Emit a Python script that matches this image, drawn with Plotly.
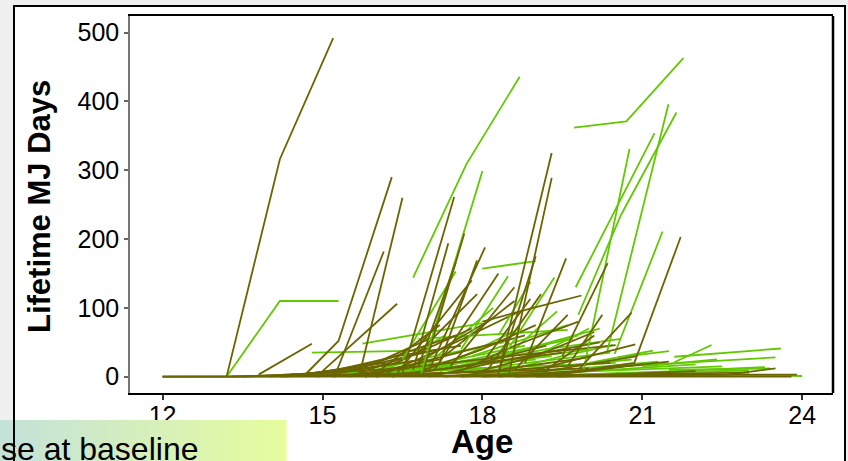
import plotly.graph_objects as go

# ---------------- data (age, lifetime MJ days) per subject ----------------
olive_low_ages = [
    [12, 13.2, 16.0, 19.0, 23.8], [12, 13.2, 15.0, 18.0, 23.9], [13.2, 15.0, 17.0, 20.0],
    [13.3, 14.7, 16.2], [13.5, 15.2, 16.9], [14.0, 15.5, 17.2], [14.3, 15.8, 17.5],
    [14.6, 16.0, 17.0], [14.9, 16.3, 17.8], [15.2, 16.6, 18.2], [15.5, 17.2, 18.6],
    [15.8, 17.3, 18.8], [16.0, 17.7, 19.2], [16.3, 18.0, 19.5], [16.6, 18.3, 20.0],
    [17.0, 18.5, 20.2], [17.3, 18.9, 20.4], [17.6, 19.2, 20.9], [18.0, 19.6, 21.0],
    [18.3, 20.0, 21.5], [18.6, 20.3, 22.0], [19.0, 20.7, 22.6, 23.5], [19.4, 21.0, 23.0],
    [14.4, 16.5, 18.5, 20.5], [15.0, 16.4, 17.6], [16.9, 18.0, 19.0], [17.5, 18.6, 19.8],
    [16.2, 17.5, 18.7], [15.6, 16.8, 17.9], [17.8, 19.0, 20.1],
]
olive_low_vals = [
    [0, 0, 0, 0, 0], [0, 0, 1, 2, 3], [0, 2, 5, 12],
    [0, 4, 20], [0, 6, 25], [0, 10, 40], [0, 15, 60],
    [2, 20, 55], [0, 18, 70], [0, 12, 85], [0, 25, 110],
    [0, 30, 60], [0, 15, 45], [0, 20, 35], [2, 10, 28],
    [0, 25, 50], [0, 12, 20], [0, 8, 30], [0, 5, 18],
    [0, 10, 22], [0, 3, 8], [0, 1, 3, 12], [0, 4, 6],
    [3, 12, 30, 46], [5, 30, 45], [10, 40, 75], [5, 45, 80],
    [5, 50, 95], [3, 35, 120], [5, 30, 65],
]

green_low_ages = [
    [14.2, 16.0, 18.0], [14.5, 16.5, 18.5, 20.5], [15.0, 17.0, 19.0], [15.4, 17.2, 18.8],
    [15.8, 17.5, 19.3], [16.2, 17.8, 19.7], [16.6, 18.2, 20.0], [17.0, 18.6, 20.4],
    [17.4, 19.0, 20.8], [17.8, 19.5, 21.3], [18.2, 20.0, 22.0], [18.7, 20.6, 22.5],
    [19.2, 21.0, 23.0], [19.8, 21.6, 23.3], [16.8, 18.4, 19.8], [17.2, 18.8, 20.2],
    [16.0, 17.4, 18.7], [15.6, 17.1, 18.4], [17.6, 19.2, 20.6], [18.5, 19.5, 20.45],
    [21.6, 23.6], [20.6, 23.5], [21.6, 22.3], [20.55, 21.5], [20.0, 21.2],
    [20.5, 24.0], [21.5, 23.4], [21.0, 22.4], [14.8, 16.9], [15.75, 18.0],
    [16.8, 19.6], [16.8, 18.0], [17.0, 18.2], [18.6, 19.4], [19.0, 20.0],
    [17.8, 19.6], [16.2, 17.3],
]
green_low_vals = [
    [0, 5, 12], [2, 8, 15, 20], [3, 12, 25], [5, 20, 45],
    [0, 15, 30], [3, 25, 55], [5, 20, 40], [2, 18, 35],
    [5, 12, 25], [3, 10, 22], [2, 8, 18], [4, 10, 15],
    [2, 6, 9], [3, 8, 14], [10, 30, 60], [8, 40, 70],
    [5, 20, 70], [3, 30, 50], [15, 40, 55], [10, 30, 46],
    [29, 41], [15, 28], [21, 46], [28, 37], [20, 38],
    [5, 1], [10, 12], [15, 25], [35, 38], [48, 78],
    [55, 68], [5, 40], [20, 100], [40, 95], [30, 70],
    [30, 75], [10, 60],
]

green_high_ages = [
    [13.2, 14.2, 15.3], [16.7, 17.7, 18.7], [16.85, 18.0], [16.5, 17.5],
    [18.0, 19.0], [19.72, 20.7, 21.77], [19.9, 20.76], [19.75, 21.23],
    [19.8, 20.6, 21.64], [20.33, 21.49], [20.48, 21.38], [17.6, 18.48],
    [18.3, 18.9], [18.4, 19.35],
]
green_high_vals = [
    [0, 110, 110], [144, 309, 436], [5, 299], [25, 153],
    [157, 168], [362, 371, 463], [10, 331], [130, 354],
    [90, 235, 384], [33, 396], [33, 211], [40, 146],
    [60, 138], [30, 144],
]

olive_high_ages = [
    [12, 13.2, 14.2, 15.2], [13.8, 14.8], [14.7, 15.3, 16.3], [15.7, 16.5],
    [15.25, 16.15], [15.0, 16.4], [16.5, 17.47], [16.7, 17.36],
    [16.9, 17.66], [16.8, 17.5], [17.0, 18.05], [17.2, 17.9],
    [18.3, 19.3], [18.5, 19.3], [19.5, 20.85, 21.72], [19.5, 20.35],
    [18.8, 19.57], [19.6, 20.25], [19.8, 20.8], [19.0, 20.87],
    [18.0, 18.95, 19.86], [18.3, 19.0], [18.0, 18.9],
    [16.4, 17.8], [17.1, 18.3], [17.4, 18.6], [18.1, 19.1],
    [18.6, 19.6], [16.0, 17.2], [19.2, 20.1],
]
olive_high_vals = [
    [0, 0, 316, 492], [3, 48], [5, 52, 290], [5, 260],
    [5, 182], [8, 106], [5, 261], [10, 194],
    [10, 208], [15, 166], [10, 188], [20, 169],
    [5, 325], [5, 289], [5, 20, 203], [30, 165],
    [20, 172], [15, 90], [10, 93], [10, 47],
    [80, 100, 118], [5, 175], [20, 113],
    [5, 140], [10, 150], [15, 130], [10, 120],
    [10, 90], [5, 75], [10, 60],
]

x_ticks = [12, 15, 18, 21, 24]
y_ticks = [0, 100, 200, 300, 400, 500]

OLIVE = "#6B6500"
GREEN = "#62C800"

fig = go.Figure()


def add_group(ages_list, vals_list, color):
    for a, v in zip(ages_list, vals_list):
        fig.add_trace(go.Scatter(x=a, y=v, mode="lines",
                                 line=dict(color=color, width=1.8),
                                 hoverinfo="skip", showlegend=False))


add_group(green_low_ages, green_low_vals, GREEN)
add_group(olive_low_ages, olive_low_vals, OLIVE)
add_group(green_high_ages, green_high_vals, GREEN)
add_group(olive_high_ages, olive_high_vals, OLIVE)

# ---------------- layout ----------------
L, R, T, B = 130, 833, 16, 393
W, H = 848, 461
PW, PH = R - L, B - T


def px(xp):
    return (xp - L) / PW


def py(yp):
    return (B - yp) / PH


shapes = []
# slide frame
shapes.append(dict(type="rect", xref="paper", yref="paper",
                   x0=px(14), x1=px(845), y0=py(480), y1=py(6),
                   fillcolor="white", line=dict(color="black", width=2), layer="below"))
# right border of panel
shapes.append(dict(type="line", xref="paper", yref="paper",
                   x0=1, x1=1, y0=0, y1=1, line=dict(color="black", width=2.5), layer="above"))
# gradient overlay box (bottom-left)
c0 = (196, 226, 218)
c1 = (230, 252, 158)
n = 40
gx0, gx1 = 0, 286
for i in range(n):
    t = i / (n - 1)
    c = tuple(int(round(c0[k] + (c1[k] - c0[k]) * t)) for k in range(3))
    xa = gx0 + (gx1 - gx0) * i / n
    xb = gx0 + (gx1 - gx0) * (i + 1) / n + 0.6
    shapes.append(dict(type="rect", xref="paper", yref="paper",
                       x0=px(xa), x1=px(xb), y0=py(470), y1=py(420),
                       fillcolor="rgb(%d,%d,%d)" % c, line=dict(width=0), layer="above"))
shapes.append(dict(type="line", xref="paper", yref="paper",
                   x0=px(14), x1=px(14), y0=py(470), y1=py(420),
                   line=dict(color="black", width=2), layer="above"))

annotations = [
    dict(text="<b>Lifetime MJ Days</b>", textangle=-90, xref="paper", yref="paper",
         x=px(39), y=py(206), xanchor="center", yanchor="middle", showarrow=False,
         font=dict(family="Liberation Sans", size=31, color="black")),
    dict(text="<b>Age</b>", xref="paper", yref="paper",
         x=px(482), y=py(441), xanchor="center", yanchor="middle", showarrow=False,
         font=dict(family="Liberation Sans", size=33, color="black")),
    dict(text="se at baseline", xref="paper", yref="paper",
         x=px(-1), y=py(469), xanchor="left", yanchor="bottom", showarrow=False,
         font=dict(family="Liberation Sans", size=32, color="black")),
]

fig.update_layout(
    width=W, height=H,
    margin=dict(l=L, r=W - R, t=T, b=H - B, pad=0),
    paper_bgcolor="#f0f0f0",
    plot_bgcolor="white",
    showlegend=False,
    hovermode=False,
    shapes=shapes,
    annotations=annotations,
    xaxis=dict(range=[11.388, 24.578], tickvals=x_ticks, ticktext=[str(v) for v in x_ticks],
               ticks="outside", ticklen=5, tickwidth=1.5, tickcolor="#333333",
               showline=True, linecolor="black", linewidth=2, mirror=True,
               showgrid=False, zeroline=False, ticklabelstandoff=-6,
               tickfont=dict(family="Liberation Sans", size=25, color="black")),
    yaxis=dict(range=[-23.7, 524.2], tickvals=y_ticks, ticktext=[str(v) for v in y_ticks],
               ticks="outside", ticklen=4, tickwidth=1.5, tickcolor="#666666",
               showline=True, linecolor="#777777", linewidth=1.5,
               showgrid=False, zeroline=False,
               tickfont=dict(family="Liberation Sans", size=25, color="black")),
)

fig.write_html("out.html", config={"displayModeBar": False},
               post_script="document.body.style.margin='0';document.body.style.overflow='hidden';")
